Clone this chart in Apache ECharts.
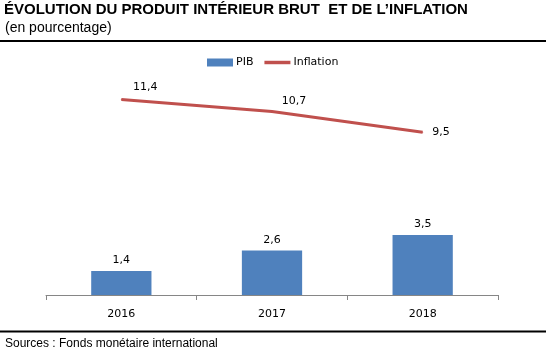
<!DOCTYPE html>
<html><head><meta charset="utf-8">
<script src="https://cdn.jsdelivr.net/npm/echarts@6/dist/echarts.min.js"></script>
<style>html,body{margin:0;padding:0;background:#fff}#c{width:546px;height:360px}</style>
</head><body><div id="c"></div>
<script>
const categories = ['2016', '2017', '2018'];
const pib = [1.4, 2.6, 3.5];
const inflation = [11.4, 10.7, 9.5];

const fmt = v => String(v).replace('.', ',');
const lineOffsets = [[24, -12], [22, -10], [0, 0]];
const chart = echarts.init(document.getElementById('c'));
chart.setOption({
  animation: false,
  title: [
    { text: 'ÉVOLUTION DU PRODUIT INTÉRIEUR BRUT  ET DE L’INFLATION', left: 4, top: 2, padding: 0,
      textStyle: { fontFamily: 'Liberation Sans', fontWeight: 'bold', fontSize: 15, color: '#000' } },
    { text: '(en pourcentage)', left: 5, top: 21, padding: 0,
      textStyle: { fontFamily: 'Liberation Sans', fontWeight: 'normal', fontSize: 14, color: '#000' } },
    { text: 'Sources : Fonds monétaire international', left: 5, top: 338, padding: 0,
      textStyle: { fontFamily: 'Liberation Sans', fontWeight: 'normal', fontSize: 12, color: '#000' } }
  ],
  graphic: [
    { type: 'line', shape: { x1: 0, y1: 41, x2: 546, y2: 41 }, style: { stroke: '#000', lineWidth: 2 } },
    { type: 'line', shape: { x1: 0, y1: 331.5, x2: 546, y2: 331.5 }, style: { stroke: '#000', lineWidth: 2 } }
  ],
  legend: {
    top: 57, left: 207, itemGap: 11, itemWidth: 26, itemHeight: 8, padding: 0,
    textStyle: { fontFamily: 'DejaVu Sans', fontSize: 11, color: '#000', padding: [0, 0, 0, -2] },
    data: [
      { name: 'PIB', icon: 'rect' },
      { name: 'Inflation', icon: 'path://M0,0H30V4H0Z', itemStyle: { color: '#C0504D', opacity: 1 } }
    ]
  },
  grid: { left: 46, right: 48, top: 55, bottom: 65, containLabel: false },
  xAxis: {
    type: 'category', data: categories,
    axisLine: { lineStyle: { color: '#868686', width: 1 } },
    axisTick: { show: true, length: 5, lineStyle: { color: '#868686' } },
    axisLabel: { fontFamily: 'DejaVu Sans', fontSize: 11, color: '#000', margin: 14 }
  },
  yAxis: {
    type: 'value', min: 0, max: 14, interval: 2, show: false,
    splitLine: { show: false }
  },
  series: [
    {
      name: 'PIB', type: 'bar', data: pib, barWidth: '40%',
      itemStyle: { color: '#4F81BD' },
      label: { show: true, position: 'top', distance: 5, formatter: p => fmt(p.value),
        fontFamily: 'DejaVu Sans', fontSize: 11, color: '#000' }
    },
    {
      name: 'Inflation', type: 'line', symbol: 'circle', symbolSize: 1, showSymbol: true,
      lineStyle: { color: '#C0504D', width: 3 }, itemStyle: { color: '#C0504D' },
      data: inflation.map((v, i) => ({
        value: v,
        label: i === inflation.length - 1
          ? { show: true, position: 'right', distance: 9 }
          : { show: true, position: 'inside', offset: lineOffsets[i] }
      })),
      label: { show: true, formatter: p => fmt(p.value), fontFamily: 'DejaVu Sans', fontSize: 11, color: '#000' }
    }
  ]
});
</script></body></html>
